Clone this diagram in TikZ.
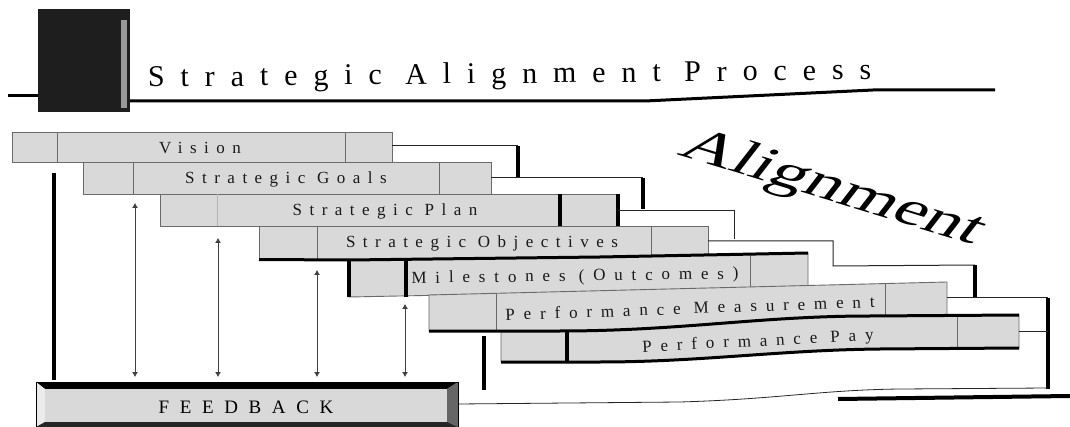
\documentclass[tikz,border=0pt]{standalone}
\usepackage{fontspec}
\setmainfont{Liberation Serif}
\newfontfamily\titlefont[LetterSpace=53]{Liberation Serif}
\newfontfamily\barfont[LetterSpace=44]{Liberation Serif}
\newfontfamily\lowfont[LetterSpace=52]{Liberation Serif}
\newfontfamily\fbfont[LetterSpace=56]{Liberation Serif}
\newfontfamily\bigital[FakeSlant=0.38, FakeStretch=1.45]{Liberation Serif}
\usetikzlibrary{arrows.meta}
\definecolor{barfill}{HTML}{D9D9D9}
\definecolor{barline}{HTML}{6A6A6A}
\definecolor{darksq}{HTML}{1E1E1E}
\tikzset{
  bar/.style={fill=barfill, draw=barline, line width=0.9pt},
  divider/.style={draw=barline, line width=0.9pt},
  heavy/.style={draw=black, line width=4pt},
  conn/.style={draw=black!85, line width=1pt},
  lbl/.style={font=\barfont\fontsize{17}{19}\selectfont, inner sep=0pt, text=black!90},
  lowlbl/.style={font=\lowfont\fontsize{17}{19}\selectfont, inner sep=0pt, text=black!90},
  fbarrow/.style={{Latex[length=5pt,width=6pt]}-{Latex[length=5pt,width=6pt]}, draw=black!75, line width=0.8pt}
}
\begin{document}
\begin{tikzpicture}[x=1pt,y=-1pt]
\useasboundingbox (0,0) rectangle (1070,427);
\fill[white] (0,0) rectangle (1070,427);

% ---- title ----
\fill[darksq] (38,9) rectangle (130,112);
\fill[black!40] (121,20) rectangle (127,108);
\draw[line width=3pt] (8,96) -- (38,96);
\coordinate (tl0) at (130,101);
\coordinate (tl1) at (645,101);
\coordinate (tl2) at (873,90);
\coordinate (tl3) at (995,90);
\draw[line width=3pt] (tl0) -- (tl1) -- (tl2) -- (tl3);
\node[anchor=base west, font=\titlefont\fontsize{30}{32}\selectfont, inner sep=0pt, rotate=0.6] (title) at (148,87) {Strategic Alignment Process};

% ---- Alignment ----
\node[font=\bigital\fontsize{50}{54}\selectfont, inner sep=0pt, rotate=-17] (align) at (828,188) {Alignment};

% ---- Vision ----
\path[bar] (12,132) rectangle (392,162);
\draw[divider] (57,132) -- (57,162) (345,132) -- (345,162);
\node[lbl] (vision) at (200,148) {Vision};
% ---- Strategic Goals ----
\path[bar] (83,162) rectangle (491,194);
\draw[divider] (133,162) -- (133,194) (439,162) -- (439,194);
\node[lbl] (goals) at (286,179) {Strategic Goals};
% ---- Strategic Plan ----
\path[bar] (160,194) rectangle (618,226);
\draw[divider, draw=barline!50] (217,194) -- (217,226);
\draw[line width=4pt] (560,194) -- (560,226) (618,194) -- (618,226);
\node[lbl] (plan) at (385,211) {Strategic Plan};
% ---- Strategic Objectives ----
\path[bar] (259,226) rectangle (708,259);
\draw[divider] (317,226) -- (317,259) (651,226) -- (651,259);
\node[lbl] (objectives) at (482,243) {Strategic Objectives};
% ---- Milestones ----
\path[bar] (349,260) -- (600,257) -- (808,253) -- (808,286) -- (600,292) -- (349,297) -- cycle;
\draw[divider] (750,254) -- (750,288);
\draw[line width=4pt] (406,259) -- (406,297) (349,259) -- (349,297);
\draw[line width=3pt] (259,259.5) -- (349,260) -- (600,257) -- (808,253);
\node[lowlbl, rotate=0.8] (milestones) at (575,277) {Milestones (Outcomes)};
% ---- Performance Measurement ----
\path[bar] (429,295) -- (947,282) -- (947,316) -- (870,316) .. controls (760,317) and (680,331) .. (560,331) -- (429,331) -- cycle;
\draw[divider] (496,294) -- (496,331) (885,283) -- (885,316);
\node[lowlbl, rotate=2] (measurement) at (690,308) {Performance Measurement};
% ---- Performance Pay ----
\path[bar] (501,331) -- (560,331) .. controls (680,331) and (760,316) .. (870,316) -- (1019,315) -- (1019,348) -- (880,349) .. controls (780,350) and (700,362) .. (600,362) -- (501,362) -- cycle;
\draw[divider] (957,315) -- (957,348);
\draw[line width=4pt] (567,331) -- (567,362);
\draw[line width=3pt] (429,331) -- (560,331) .. controls (680,331) and (760,316) .. (870,316) -- (1019,315);
\draw[line width=3pt] (501,362) -- (600,362) .. controls (700,362) and (780,350) .. (880,349) -- (1019,348);
\node[lowlbl, rotate=3] (pay) at (758,342) {Performance Pay};

% ---- staircase connectors ----
\coordinate (c1a) at (392,146); \coordinate (c1b) at (518,146); \coordinate (c1c) at (518,177);
\draw[conn] (c1a) -- (c1b); \draw[heavy] (c1b) -- (c1c);
\coordinate (c2a) at (491,178); \coordinate (c2b) at (643,178); \coordinate (c2c) at (643,209);
\draw[conn] (c2a) -- (c2b); \draw[heavy] (c2b) -- (c2c);
\coordinate (c3a) at (618,211); \coordinate (c3b) at (734,211); \coordinate (c3c) at (734,239);
\draw[conn] (c3a) -- (c3b) -- (c3c);
\coordinate (c4a) at (708,241); \coordinate (c4b) at (833,241); \coordinate (c4c) at (833,266);
\coordinate (c5b) at (975,265); \coordinate (c5c) at (975,297);
\draw[conn] (c4a) -- (c4b) -- (c4c) -- (c5b); \draw[heavy] (c5b) -- (c5c);
\coordinate (c6a) at (947,298); \coordinate (c6b) at (1048,298); \coordinate (c6c) at (1048,389);
\draw[conn] (c6a) -- (c6b); \draw[heavy] (c6b) -- (c6c);
\coordinate (c7a) at (1019,331); \coordinate (c7b) at (1048,331);
\draw[conn] (c7a) -- (c7b);
\coordinate (b1) at (458,404); \coordinate (b2) at (1048,388);
\draw[conn, line width=0.8pt] (b1) -- (680,402) .. controls (780,399) and (820,390) .. (900,389) -- (b2);
\coordinate (k1) at (838,399); \coordinate (k2) at (1070,396);
\draw[line width=4pt] (k1) -- (k2);
\coordinate (v1a) at (484,336); \coordinate (v1b) at (484,390);
\draw[heavy] (v1a) -- (v1b);
\coordinate (v2a) at (54,173); \coordinate (v2b) at (54,380);
\draw[heavy] (v2a) -- (v2b);

% ---- FEEDBACK ----
\fill[black!15] (36,382) rectangle (458,427);
\fill[black] (36,382) -- (458,382) -- (447,389) -- (45,389) -- cycle;
\fill[black!60] (458,382) -- (458,427) -- (447,422) -- (447,389) -- cycle;
\fill[black!8] (36,382) -- (45,389) -- (45,422) -- (36,427) -- cycle;
\fill[black!85] (36,427) -- (45,422) -- (447,422) -- (458,427) -- cycle;
\fill[barfill] (45,389) rectangle (447,422);
\draw[black, line width=0.8pt] (36,382) rectangle (458,427);
\node[font=\fbfont\fontsize{19}{21}\selectfont, inner sep=0pt] (feedback) at (246,407) {FEEDBACK};

% ---- feedback arrows ----
\coordinate (a1t) at (135,203); \coordinate (a1b) at (135,377);
\coordinate (a2t) at (218,238); \coordinate (a2b) at (218,377);
\coordinate (a3t) at (317,270); \coordinate (a3b) at (317,377);
\coordinate (a4t) at (405,304); \coordinate (a4b) at (405,377);
\draw[fbarrow] (a1t) -- (a1b);
\draw[fbarrow] (a2t) -- (a2b);
\draw[fbarrow] (a3t) -- (a3b);
\draw[fbarrow] (a4t) -- (a4b);
\end{tikzpicture}
\end{document}
